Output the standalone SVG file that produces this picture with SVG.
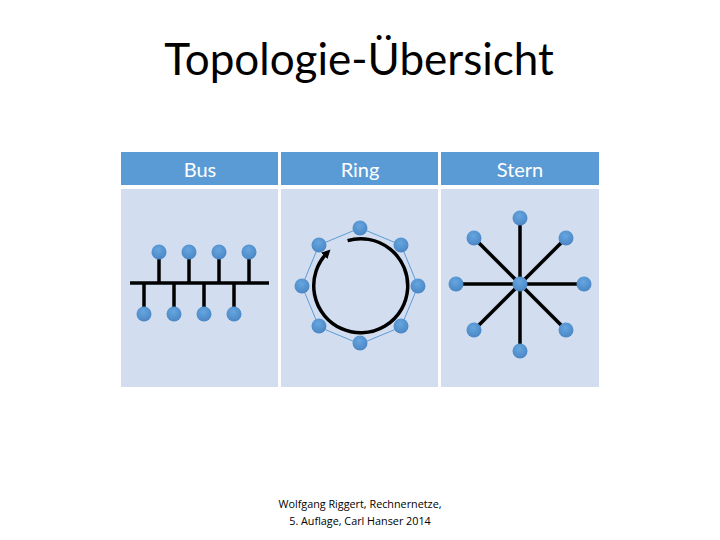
<svg xmlns="http://www.w3.org/2000/svg" width="720" height="540" viewBox="0 0 720 540">
<style>
.hd{fill:#5b9bd5}
.bd{fill:#d2deef}
.ht{font-family:Lato,"Open Sans",sans-serif;font-size:20px;fill:#fff;text-anchor:middle}
.nd{fill:url(#g)}
.w{stroke:#000;stroke-width:3.5;fill:none}
.rl{stroke:#5b9bd5;stroke-width:1;fill:none}
.ft{font-family:"Open Sans",sans-serif;font-size:10.8px;fill:#000;text-anchor:middle}
</style>
<defs>
<radialGradient id="g" cx="0.45" cy="0.35" r="0.65">
<stop offset="0" stop-color="#66a6e0"/>
<stop offset="1" stop-color="#4a86c4"/>
</radialGradient>
<marker id="ah" markerWidth="9" markerHeight="9" refX="4" refY="4.5" orient="auto" markerUnits="userSpaceOnUse" viewBox="0 0 9 9">
<path d="M0,0 L9,4.5 L0,9 z" fill="#000"/>
</marker>
</defs>
<rect width="720" height="540" fill="#fff"/>
<text x="359" y="75" font-family="Lato,'Open Sans',sans-serif" font-size="44" text-anchor="middle" fill="#000">Topologie-Übersicht</text>

<g id="table">
<rect class="hd" x="121" y="152" width="157" height="33"/>
<rect class="hd" x="281" y="152" width="157" height="33"/>
<rect class="hd" x="441" y="152" width="158" height="33"/>
<rect class="bd" x="121" y="189" width="157" height="198"/>
<rect class="bd" x="281" y="189" width="157" height="198"/>
<rect class="bd" x="441" y="189" width="158" height="198"/>
<text class="ht" x="200" y="177">Bus</text>
<text class="ht" x="360" y="177">Ring</text>
<text class="ht" x="520" y="177">Stern</text>
</g>

<g id="connectors">
<!-- bus -->
<line class="w" x1="130" y1="283" x2="269" y2="283"/>
<line class="w" x1="159" y1="252" x2="159" y2="283"/>
<line class="w" x1="189" y1="252" x2="189" y2="283"/>
<line class="w" x1="219" y1="252" x2="219" y2="283"/>
<line class="w" x1="249" y1="252" x2="249" y2="283"/>
<line class="w" x1="144" y1="283" x2="144" y2="314"/>
<line class="w" x1="174" y1="283" x2="174" y2="314"/>
<line class="w" x1="204" y1="283" x2="204" y2="314"/>
<line class="w" x1="234" y1="283" x2="234" y2="314"/>
<!-- ring -->
<polygon class="rl" points="360,228 401,245 418,286 401,327 360,344 319,327 302,286 319,245"/>
<path class="w" d="M347.6,240.6 A47,47 0 1 1 327,253" marker-end="url(#ah)"/>
<!-- star -->
<line class="w" x1="520" y1="218" x2="520" y2="351"/>
<line class="w" x1="456" y1="284" x2="584" y2="284"/>
<line class="w" x1="474" y1="238" x2="566" y2="330"/>
<line class="w" x1="566" y1="238" x2="474" y2="330"/>
</g>

<g id="bus-nodes">
<circle class="nd" cx="159" cy="252" r="7.5"/>
<circle class="nd" cx="189" cy="252" r="7.5"/>
<circle class="nd" cx="219" cy="252" r="7.5"/>
<circle class="nd" cx="249" cy="252" r="7.5"/>
<circle class="nd" cx="144" cy="314" r="7.5"/>
<circle class="nd" cx="174" cy="314" r="7.5"/>
<circle class="nd" cx="204" cy="314" r="7.5"/>
<circle class="nd" cx="234" cy="314" r="7.5"/>
</g>
<g id="ring-nodes">
<circle class="nd" cx="360" cy="228" r="7.5"/>
<circle class="nd" cx="401" cy="245" r="7.5"/>
<circle class="nd" cx="418" cy="286" r="7.5"/>
<circle class="nd" cx="401" cy="326" r="7.5"/>
<circle class="nd" cx="360" cy="343" r="7.5"/>
<circle class="nd" cx="319" cy="326" r="7.5"/>
<circle class="nd" cx="302" cy="286" r="7.5"/>
<circle class="nd" cx="319" cy="245" r="7.5"/>
</g>
<g id="star-nodes">
<circle class="nd" cx="520" cy="218" r="7.5"/>
<circle class="nd" cx="566" cy="238" r="7.5"/>
<circle class="nd" cx="584" cy="284" r="7.5"/>
<circle class="nd" cx="566" cy="330" r="7.5"/>
<circle class="nd" cx="520" cy="351" r="7.5"/>
<circle class="nd" cx="474" cy="330" r="7.5"/>
<circle class="nd" cx="456" cy="284" r="7.5"/>
<circle class="nd" cx="474" cy="238" r="7.5"/>
<circle class="nd" cx="520" cy="284" r="7.5"/>
</g>

<g id="footer">
<text class="ft" x="360" y="508">Wolfgang Riggert, Rechnernetze,</text>
<text class="ft" x="360" y="525">5. Auflage, Carl Hanser 2014</text>
</g>
</svg>
